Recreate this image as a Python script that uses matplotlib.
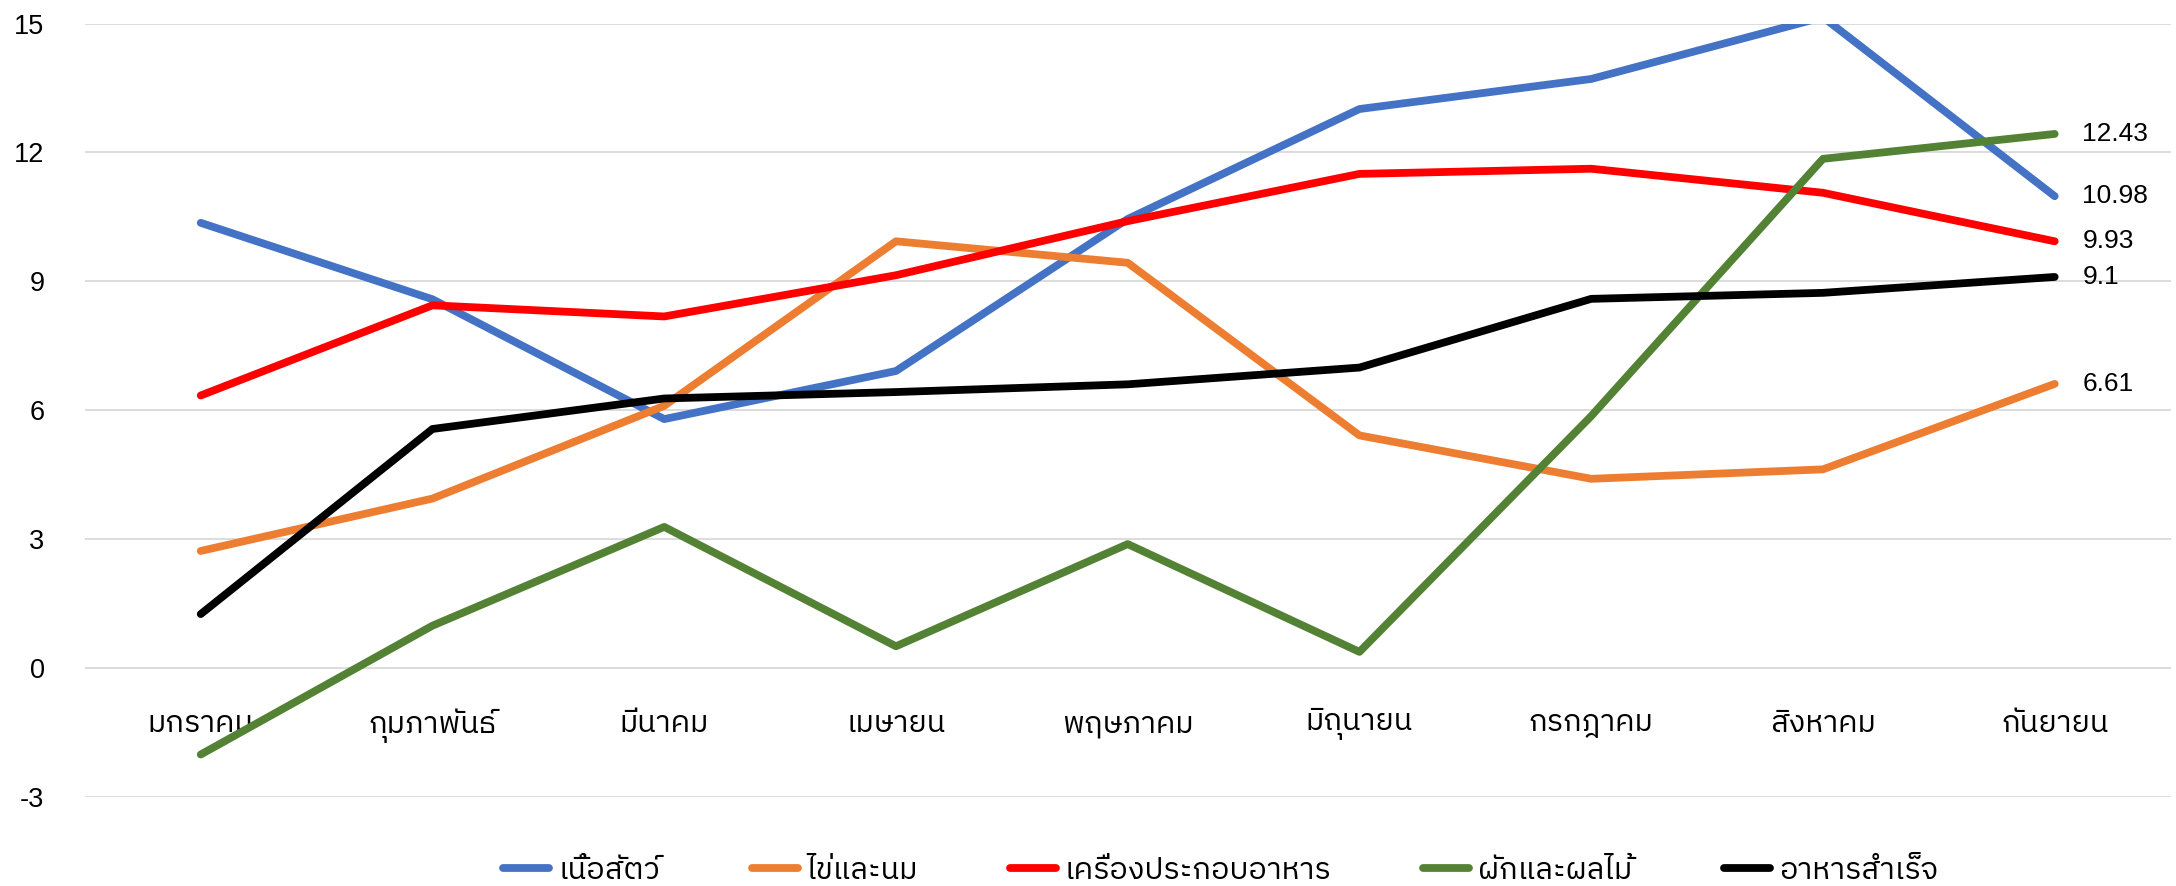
import matplotlib
matplotlib.use("Agg")
import matplotlib.pyplot as plt
from matplotlib import font_manager
from matplotlib.ft2font import FT2Font

# ---------------- data ----------------
months = ["มกราคม", "กุมภาพันธ์", "มีนาคม", "เมษายน", "พฤษภาคม",
          "มิถุนายน", "กรกฎาคม", "สิงหาคม", "กันยายน"]
series_names = ["เนื้อสัตว์", "ไข่และนม", "เครื่องประกอบอาหาร", "ผักและผลไม้", "อาหารสำเร็จ"]
meat = [10.36, 8.58, 5.79, 6.91, 10.45, 13.01, 13.71, 15.15, 10.98]
eggs_milk = [2.72, 3.94, 6.10, 9.93, 9.43, 5.41, 4.40, 4.62, 6.61]
ingredients = [6.34, 8.44, 8.18, 9.14, 10.40, 11.50, 11.62, 11.06, 9.93]
veg_fruit = [-2.02, 0.98, 3.28, 0.50, 2.88, 0.37, 5.86, 11.85, 12.43]
ready_food = [1.25, 5.56, 6.27, 6.42, 6.60, 6.99, 8.59, 8.73, 9.10]
y_ticks = [-3, 0, 3, 6, 9, 12, 15]

colors = ["#4472C4", "#ED7D31", "#FF0000", "#548235", "#000000"]

# -------- find a font with Thai glyphs --------
def has_thai(path):
    try:
        cm = FT2Font(path).get_charmap()
        return 0x0E01 in cm and 0x0E21 in cm
    except Exception:
        return False

thai_family = None
cands = []
for f in font_manager.fontManager.ttflist:
    if has_thai(f.fname):
        cands.append(f.name)
pref = [c for c in cands if "Thai" in c and "Looped" not in c] + cands
if pref:
    thai_family = pref[0]
latin = "Liberation Sans"
fam_thai = [thai_family, latin, "DejaVu Sans"] if thai_family else [latin, "DejaVu Sans"]

plt.rcParams["font.family"] = [latin, "DejaVu Sans"]

fig = plt.figure(figsize=(21.76, 8.86), dpi=100)
ax = fig.add_axes([0.039, 0.1009, 0.9585, 0.8725])

x = list(range(len(months)))
all_series = [meat, eggs_milk, ingredients, veg_fruit, ready_food]
for vals, name, c in zip(all_series, series_names, colors):
    ax.plot(x, vals, color=c, lw=5.6, solid_capstyle="round",
            solid_joinstyle="round", label=name, zorder=3)
    ax.annotate(f"{vals[-1]:g}", xy=(x[-1], vals[-1]), xytext=(20, 0),
                textcoords="offset points", va="center", ha="left",
                fontsize=19, color="black", family=[latin, "DejaVu Sans"])

ax.set_xlim(-0.5, len(months) - 0.5)
ax.set_ylim(-3, 15)
ax.set_yticks(y_ticks)
ax.set_yticklabels([str(t) for t in y_ticks], fontsize=19.5)
ax.grid(axis="y", color="#D9D9D9", lw=1.3, zorder=0)
ax.set_axisbelow(True)
for s in ["left", "right", "top"]:
    ax.spines[s].set_visible(False)
ax.spines["bottom"].set_position(("data", 0))
ax.spines["bottom"].set_visible(False)
ax.tick_params(axis="y", length=0, pad=29)
ax.tick_params(axis="x", length=0, pad=29)
ax.set_xticks(x)
ax.set_xticklabels(months, fontsize=22, family=fam_thai)

leg = fig.legend(loc="center", bbox_to_anchor=(0.561, 0.018), ncol=5,
                 frameon=False, prop={"family": fam_thai, "size": 22},
                 handlelength=1.5, handletextpad=0.3, columnspacing=3.0)

fig.savefig("out.png", dpi=100)
